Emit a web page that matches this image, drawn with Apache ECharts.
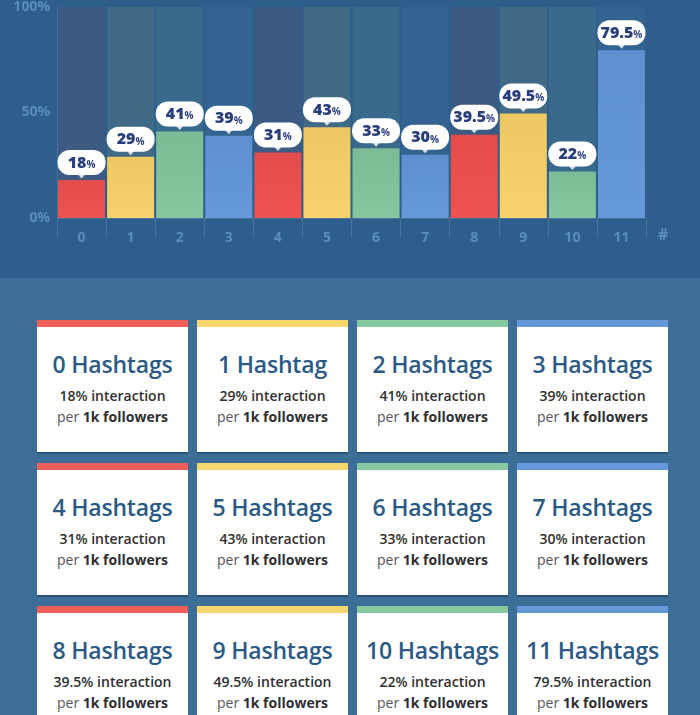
<!DOCTYPE html>
<html>
<head>
<meta charset="utf-8">
<script src="https://cdn.jsdelivr.net/npm/echarts@6/dist/echarts.min.js"></script>
<style>
  html, body { margin: 0; padding: 0; width: 700px; height: 715px; overflow: hidden; background: #3d6e98; }
  #top { position: absolute; left: 0; top: 0; width: 700px; height: 278px; background: #2e5f8c; }
  #chart { position: absolute; left: 0; top: 0; width: 700px; height: 278px; }
  #cards { position: absolute; left: 37px; top: 320px; display: grid;
           grid-template-columns: repeat(4, 151px); grid-auto-rows: 132px; column-gap: 9px; row-gap: 11px; }
  .card { background: #fff; box-sizing: border-box; border-top: 7px solid #ccc; text-align: center;
          font-family: "Open Sans", sans-serif; box-shadow: 0 2px 0 rgba(20,50,80,0.45); }
  .card .t { margin-top: 22px; font-size: 23px; font-weight: 600; color: #2b5a86; line-height: 30px; letter-spacing: -0.2px; }
  .card .l1 { margin-top: 6px; font-size: 14px; font-weight: 600; color: #2f2f2f; line-height: 21px; }
  .card .l2 { font-size: 14px; font-weight: 400; color: #555; line-height: 21px; }
  .card .l2 b { font-weight: 700; color: #2f2f2f; }
</style>
</head>
<body>
<div id="top"></div>
<div id="chart"></div>
<div id="cards"></div>
<script>
// ---- data ----
const categories = ['0', '1', '2', '3', '4', '5', '6', '7', '8', '9', '10', '11'];
const interaction = [18, 29, 41, 39, 31, 43, 33, 30, 39.5, 49.5, 22, 79.5];
const yTicks = [0, 50, 100];
const barColors = ['#ef5350', '#f8d36d', '#86c7a0', '#6699d9'];
const barShade = ['#e24c4a', '#ecc862', '#7bbb95', '#5e90d0'];
const columnColors = ['#3d5a83', '#416a86', '#3a6a8b', '#336390'];
const stripColors = ['#ef5f5a', '#f8d66e', '#86c8a0', '#6699d9'];

// ---- chart ----
const chart = echarts.init(document.getElementById('chart'));
const labelColor = '#5b8cba';
const lineColor = '#46749f';

chart.setOption({
  animation: false,
  grid: { left: 57, right: 54, top: 6, bottom: 60 },
  xAxis: {
    type: 'category',
    data: categories,
    name: '#',
    nameLocation: 'end',
    nameGap: 12,
    nameTextStyle: { color: labelColor, fontSize: 16, fontWeight: 'bold', fontFamily: 'Open Sans', verticalAlign: 'top', padding: [9, 0, 0, 0] },
    axisLine: { show: true, lineStyle: { color: lineColor, width: 1 } },
    axisTick: { show: true, length: 20, interval: 0, lineStyle: { color: lineColor } },
    axisLabel: { color: labelColor, fontSize: 14, fontWeight: 'bold', fontFamily: 'Open Sans', margin: 13, interval: 0 },
    splitLine: { show: false }
  },
  yAxis: {
    type: 'value',
    min: 0, max: 100, interval: 50,
    axisLine: { show: true, lineStyle: { color: lineColor } },
    axisTick: { show: false },
    splitLine: { show: false },
    axisLabel: { color: labelColor, fontSize: 14, fontWeight: 'bold', fontFamily: 'Open Sans', margin: 7,
                 formatter: v => yTicks.indexOf(v) >= 0 ? v + '%' : '' }
  },
  series: [
    {
      type: 'bar',
      data: categories.map((c, i) => ({ value: 100, itemStyle: { color: columnColors[i % 4] } })),
      barWidth: 47,
      barGap: '-100%',
      silent: true,
      z: 1
    },
    {
      type: 'bar',
      data: interaction.map((v, i) => ({
        value: v,
        itemStyle: {
          color: {
            type: 'linear', x: 0, y: 0, x2: 0, y2: 1,
            colorStops: [
              { offset: 0, color: barShade[i % 4] },
              { offset: 1, color: barColors[i % 4] }
            ]
          }
        }
      })),
      barWidth: 47,
      barGap: '-100%',
      z: 2,
      label: {
        show: true,
        position: 'top',
        distance: 5,
        backgroundColor: '#ffffff',
        borderRadius: 12,
        width: 48,
        padding: [4, 0, 3, 0],
        align: 'center',
        formatter: p => '{v|' + p.value + '}{p|%}',
        rich: {
          v: { fontSize: 16, fontWeight: 800, color: '#2a3e7c', fontFamily: 'Open Sans', lineHeight: 18 },
          p: { fontSize: 10, fontWeight: 'bold', color: '#2a3e7c', fontFamily: 'Open Sans', lineHeight: 18, padding: [4, 0, 0, 0] }
        }
      }
    },
    {
      type: 'scatter',
      data: interaction,
      symbol: 'triangle',
      symbolRotate: 180,
      symbolSize: [9, 5],
      symbolOffset: [0, -4],
      itemStyle: { color: '#ffffff' },
      silent: true,
      z: 3
    }
  ]
});

// ---- cards ----
const cards = document.getElementById('cards');
categories.forEach((c, i) => {
  const d = document.createElement('div');
  d.className = 'card';
  d.style.borderTopColor = stripColors[i % 4];
  const n = Number(c);
  d.innerHTML = '<div class="t">' + c + ' Hashtag' + (n === 1 ? '' : 's') + '</div>' +
    '<div class="l1">' + interaction[i] + '% interaction</div>' +
    '<div class="l2">per <b>1k followers</b></div>';
  cards.appendChild(d);
});
</script>
</body>
</html>
